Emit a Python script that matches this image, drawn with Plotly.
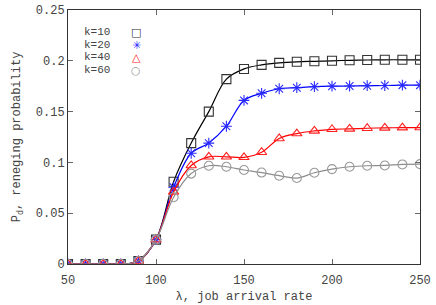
import plotly.graph_objects as go

lam = [50, 60, 70, 80, 90, 100, 110, 120, 130, 140, 150, 160, 170, 180, 190, 200, 210, 220, 230, 240, 250]
k10 = [0, 0, 0, 0, 0.003, 0.024, 0.081, 0.119, 0.150, 0.182, 0.192, 0.196, 0.198, 0.199, 0.1995, 0.200, 0.2005, 0.2008, 0.201, 0.201, 0.201]
k20 = [0, 0, 0, 0, 0.003, 0.024, 0.0755, 0.109, 0.119, 0.1356, 0.161, 0.168, 0.1725, 0.1735, 0.1745, 0.175, 0.1752, 0.1755, 0.1757, 0.176, 0.176]
k40 = [0, 0, 0, 0, 0.003, 0.024, 0.071, 0.097, 0.1055, 0.1055, 0.105, 0.110, 0.1235, 0.1284, 0.131, 0.1326, 0.133, 0.1336, 0.134, 0.1342, 0.1343]
k60 = [0, 0, 0, 0, 0.003, 0.024, 0.0657, 0.089, 0.0967, 0.0957, 0.0925, 0.090, 0.0869, 0.0846, 0.0898, 0.0934, 0.0957, 0.0967, 0.097, 0.098, 0.0983]

names = ["k=10", "k=20", "k=40", "k=60"]
series = [k10, k20, k40, k60]
line_colors = ["#000000", "#0000ff", "#ff0000", "#8c8c8c"]
marker_colors = ["#333333", "#2a2aff", "#ff2020", "#999999"]
symbols = ["square-open", "asterisk-open", "triangle-up-open", "circle-open"]
legend_glyphs = ["□", "✳", "△", "○"]

FONT = "Liberation Mono, Courier New, monospace"
TXT = "#444444"

fig = go.Figure()
for name, ys, lc, mc, sym in zip(names, series, line_colors, marker_colors, symbols):
    fig.add_trace(go.Scatter(
        x=lam, y=ys, name=name, mode="lines+markers",
        line=dict(color=lc, width=1.2, shape="spline", smoothing=1.0),
        marker=dict(symbol=sym, size=9, color=mc, line=dict(color=mc, width=1.1)),
        showlegend=False,
    ))

# legend made of text annotations (label left, symbol right)
row_y = [0.914, 0.864, 0.814, 0.764]
for name, glyph, mc, yy in zip(names, legend_glyphs, marker_colors, row_y):
    fig.add_annotation(xref="paper", yref="paper", x=0.043, y=yy, text=name,
                       showarrow=False, xanchor="left", yanchor="middle",
                       height=12, borderpad=0,
                       font=dict(family=FONT, size=11, color=TXT))
    fig.add_annotation(xref="paper", yref="paper", x=0.194, y=yy, text=glyph,
                       showarrow=False, xanchor="center", yanchor="middle",
                       height=12, borderpad=0,
                       font=dict(family="DejaVu Sans", size=11, color=mc))

axis_common = dict(
    showline=True, linecolor="#333", linewidth=1, mirror="ticks",
    ticks="inside", ticklen=5, tickcolor="#666", tickwidth=1,
    showgrid=False, zeroline=False, automargin=False,
    ticklabeloverflow="allow",
    tickfont=dict(family=FONT, size=12, color=TXT),
)

fig.update_layout(
    width=436, height=305,
    margin=dict(l=68, r=16, t=10, b=41),
    paper_bgcolor="white", plot_bgcolor="white",
    font=dict(family=FONT, size=12, color=TXT),
    xaxis=dict(range=[50, 250], tickvals=[50, 100, 150, 200, 250],
               ticklabelstandoff=5,
               title=dict(text="λ, job arrival rate", standoff=4,
                          font=dict(family=FONT, size=12, color=TXT)),
               **axis_common),
    yaxis=dict(range=[0, 0.25], tickvals=[0, 0.05, 0.1, 0.15, 0.2, 0.25],
               ticktext=["0", "0.05", "0.1", "0.15", "0.2", "0.25"],
               title=dict(text="P<sub>d</sub>, reneging probability", standoff=12,
                          font=dict(family=FONT, size=12, color=TXT)),
               **axis_common),
)

# remove the default 8px page margin so the figure fills the window exactly
fig.write_html("out.html", config={"displayModeBar": False},
               post_script="document.body.style.margin='0px';")
